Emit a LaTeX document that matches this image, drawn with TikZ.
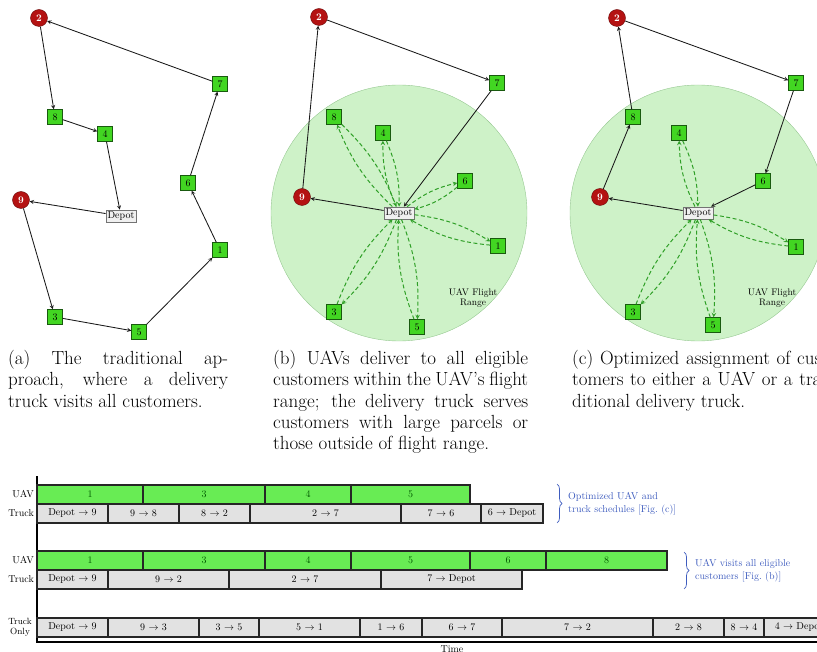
\documentclass[tikz,border=0pt]{standalone}
\usepackage{amsmath}
\usepackage{amssymb}
\usepackage{xcolor}
\usetikzlibrary{arrows,calc,decorations.pathreplacing,positioning}

\definecolor{custgreen}{RGB}{66,214,34}
\definecolor{custedge}{RGB}{25,90,15}
\definecolor{bargreen}{RGB}{104,236,84}
\definecolor{rangegreen}{RGB}{206,242,200}
\definecolor{rangeedge}{RGB}{150,200,145}
\definecolor{nodered}{RGB}{180,18,18}
\definecolor{uavline}{RGB}{48,160,40}
\definecolor{boxgray}{RGB}{226,226,226}
\definecolor{notecol}{RGB}{62,92,190}

\begin{document}
\begin{tikzpicture}[x=1pt,y=-1pt]
	\tikzstyle{cust} = [rectangle, draw=custedge, fill=custgreen, minimum size=15pt, inner sep=0pt, font=\fontsize{10}{12}\selectfont]
	\tikzstyle{far} = [circle, draw=black!40!nodered, fill=nodered, text=white, minimum size=17pt, inner sep=0pt, font=\fontsize{10}{12}\selectfont\bfseries]
	\tikzstyle{depot} = [rectangle, draw=black!55, fill=gray!12, inner sep=1.8pt, font=\fontsize{10}{12}\selectfont]
	\tikzstyle{truck} = [->, >=stealth, black!90, line width=0.85pt]
	\tikzstyle{uav} = [->, >=stealth, uavline, line width=1pt, dash pattern=on 4pt off 2.5pt]
	\tikzstyle{flightzone} = [draw=rangeedge, fill=rangegreen]
	\tikzstyle{zonetext} = [align=center, font=\fontsize{9.5}{10}\selectfont]
	\tikzstyle{captext} = [anchor=north west, inner sep=0pt, align=justify, font=\fontsize{19}{21.3}\selectfont]
	\tikzstyle{uavbar} = [draw=black!85, fill=bargreen, line width=1.2pt, minimum height=19pt, inner sep=0pt, text=black!65!green, font=\fontsize{10}{12}\selectfont]
	\tikzstyle{truckbar} = [draw=black!85, fill=boxgray, line width=1.2pt, minimum height=19pt, inner sep=0pt, font=\fontsize{10}{12}\selectfont]
	\tikzstyle{rowlabel} = [anchor=east, inner sep=0pt, font=\fontsize{10}{12}\selectfont]
	\tikzstyle{notetext} = [anchor=west, align=left, text=notecol, inner sep=0pt, font=\fontsize{10}{13}\selectfont]
	\tikzstyle{notebrace} = [notecol, line width=0.7pt, decorate, decoration={brace, amplitude=5pt}]
\useasboundingbox (0,0) rectangle (817,652);
\clip (0,0) rectangle (817,652);
% (a) truck only
\node[far] (a2) at (39,18) {2};
\node[cust] (a8) at (55,117) {8};
\node[cust] (a4) at (105,134) {4};
\node[depot] (ad) at (121,216) {Depot};
\node[far] (a9) at (21,200) {9};
\node[cust] (a3) at (55,317) {3};
\node[cust] (a5) at (139,332) {5};
\node[cust] (a1) at (220,250) {1};
\node[cust] (a6) at (188,183) {6};
\node[cust] (a7) at (220,84) {7};
	\path[draw, truck] (a2) -- (a8);
	\path[draw, truck] (a8) -- (a4);
	\path[draw, truck] (a4) -- (ad);
	\path[draw, truck] (ad) -- (a9);
	\path[draw, truck] (a9) -- (a3);
	\path[draw, truck] (a3) -- (a5);
	\path[draw, truck] (a5) -- (a1);
	\path[draw, truck] (a1) -- (a6);
	\path[draw, truck] (a6) -- (a7);
	\path[draw, truck] (a7) -- (a2);
% (b) UAV serves all in range
\draw[flightzone] (399,213) circle (128pt);
\node[zonetext] (brange) at (473,298) {UAV Flight\\Range};
\node[far] (b2) at (319,17) {2};
\node[cust] (b7) at (497,83) {7};
\node[cust] (b8) at (334,117) {8};
\node[cust] (b4) at (383,133) {4};
\node[cust] (b6) at (465,181) {6};
\node[far] (b9) at (302,197) {9};
\node[depot] (bd) at (399,213) {Depot};
\node[cust] (b1) at (498,246) {1};
\node[cust] (b3) at (334,312) {3};
\node[cust] (b5) at (417,327) {5};
	\path[draw, truck] (b9) -- (b2);
	\path[draw, truck] (b2) -- (b7);
	\path[draw, truck] (b7) -- (bd);
	\path[draw, truck] (bd) -- (b9);
	\foreach \c in {8,4,6,1,3,5} {
		\path[draw, uav] (bd) to[bend left=12] (b\c);
		\path[draw, uav] (b\c) to[bend left=12] (bd);
	}
% (c) optimized
\draw[flightzone] (698,213) circle (128pt);
\node[zonetext] (crange) at (772,298) {UAV Flight\\Range};
\node[far] (c2) at (617,18) {2};
\node[cust] (c7) at (796,83) {7};
\node[cust] (c8) at (633,117) {8};
\node[cust] (c4) at (679,133) {4};
\node[cust] (c6) at (763,181) {6};
\node[far] (c9) at (600,197) {9};
\node[depot] (cd) at (698,213) {Depot};
\node[cust] (c1) at (796,247) {1};
\node[cust] (c3) at (633,312) {3};
\node[cust] (c5) at (713,325) {5};
	\path[draw, truck] (cd) -- (c9);
	\path[draw, truck] (c9) -- (c8);
	\path[draw, truck] (c8) -- (c2);
	\path[draw, truck] (c2) -- (c7);
	\path[draw, truck] (c7) -- (c6);
	\path[draw, truck] (c6) -- (cd);
	\foreach \c in {4,1,3,5} {
		\path[draw, uav] (cd) to[bend left=12] (c\c);
		\path[draw, uav] (c\c) to[bend left=12] (cd);
	}
% captions
\node[captext, text width=220pt] (capa) at (8,350) {(a) The traditional ap-\linebreak proach, where a delivery\linebreak truck visits all customers.};
\node[captext, text width=255pt] (capb) at (273,350) {(b) UAVs deliver to all eligible\linebreak customers within the UAV's flight\linebreak range; the delivery truck serves\linebreak customers with large parcels or\linebreak those outside of flight range.};
\node[captext, text width=255pt] (capc) at (572,350) {(c) Optimized assignment of cus-\linebreak tomers to either a UAV or a tra-\linebreak ditional delivery truck.};
% time line
\draw[line width=1.2pt] (37,476) -- (37,642) -- (830,642);
\node[anchor=north, inner sep=0pt, font=\fontsize{10}{12}\selectfont] (time) at (452,646) {Time};
% rows for (c)
\node[rowlabel] (l1u) at (34,494.5) {UAV};
\node[rowlabel] (l1t) at (34,513.5) {Truck};
\node[uavbar, minimum width=106pt] (u1a) at (90,494.5) {1};
\node[uavbar, minimum width=122pt] (u1b) at (204,494.5) {3};
\node[uavbar, minimum width=86pt] (u1c) at (308,494.5) {4};
\node[uavbar, minimum width=119pt] (u1d) at (410.5,494.5) {5};
\node[truckbar, minimum width=71pt] (t1a) at (72.5,513.5) {Depot $\rightarrow$ 9};
\node[truckbar, minimum width=71pt] (t1b) at (143.5,513.5) {9 $\rightarrow$ 8};
\node[truckbar, minimum width=71pt] (t1c) at (214.5,513.5) {8 $\rightarrow$ 2};
\node[truckbar, minimum width=151pt] (t1d) at (325.5,513.5) {2 $\rightarrow$ 7};
\node[truckbar, minimum width=80pt] (t1e) at (441,513.5) {7 $\rightarrow$ 6};
\node[truckbar, minimum width=62pt] (t1f) at (512,513.5) {6 $\rightarrow$ Depot};
\draw[notebrace] (557,484) -- (557,523);
\node[notetext] (n1) at (568,504) {Optimized UAV and\\truck schedules [Fig.~(c)]};
% rows for (b)
\node[rowlabel] (l2u) at (34,560.5) {UAV};
\node[rowlabel] (l2t) at (34,579.5) {Truck};
\node[uavbar, minimum width=106pt] (u2a) at (90,560.5) {1};
\node[uavbar, minimum width=122pt] (u2b) at (204,560.5) {3};
\node[uavbar, minimum width=86pt] (u2c) at (308,560.5) {4};
\node[uavbar, minimum width=119pt] (u2d) at (410.5,560.5) {5};
\node[uavbar, minimum width=76pt] (u2e) at (508,560.5) {6};
\node[uavbar, minimum width=121pt] (u2f) at (606.5,560.5) {8};
\node[truckbar, minimum width=71pt] (t2a) at (72.5,579.5) {Depot $\rightarrow$ 9};
\node[truckbar, minimum width=121pt] (t2b) at (168.5,579.5) {9 $\rightarrow$ 2};
\node[truckbar, minimum width=152pt] (t2c) at (305,579.5) {2 $\rightarrow$ 7};
\node[truckbar, minimum width=141pt] (t2d) at (451.5,579.5) {7 $\rightarrow$ Depot};
\draw[notebrace] (684,552) -- (684,589);
\node[notetext] (n2) at (695,571) {UAV visits all eligible\\customers [Fig.~(b)]};
% truck only (a)
\node[anchor=center, align=center, inner sep=0pt, font=\fontsize{9}{9.5}\selectfont] (l3t) at (20,627.5) {Truck\\Only};
\node[truckbar, minimum width=71pt] (t3a) at (72.5,627.5) {Depot $\rightarrow$ 9};
\node[truckbar, minimum width=91pt] (t3b) at (153.5,627.5) {9 $\rightarrow$ 3};
\node[truckbar, minimum width=60pt] (t3c) at (229,627.5) {3 $\rightarrow$ 5};
\node[truckbar, minimum width=101pt] (t3d) at (309.5,627.5) {5 $\rightarrow$ 1};
\node[truckbar, minimum width=62pt] (t3e) at (391,627.5) {1 $\rightarrow$ 6};
\node[truckbar, minimum width=80pt] (t3f) at (462,627.5) {6 $\rightarrow$ 7};
\node[truckbar, minimum width=151pt] (t3g) at (577.5,627.5) {7 $\rightarrow$ 2};
\node[truckbar, minimum width=71pt] (t3h) at (688.5,627.5) {2 $\rightarrow$ 8};
\node[truckbar, minimum width=40pt] (t3i) at (744,627.5) {8 $\rightarrow$ 4};
\node[truckbar, minimum width=70pt] (t3j) at (799,627.5) {4 $\rightarrow$ Depot};
\end{tikzpicture}
\end{document}
